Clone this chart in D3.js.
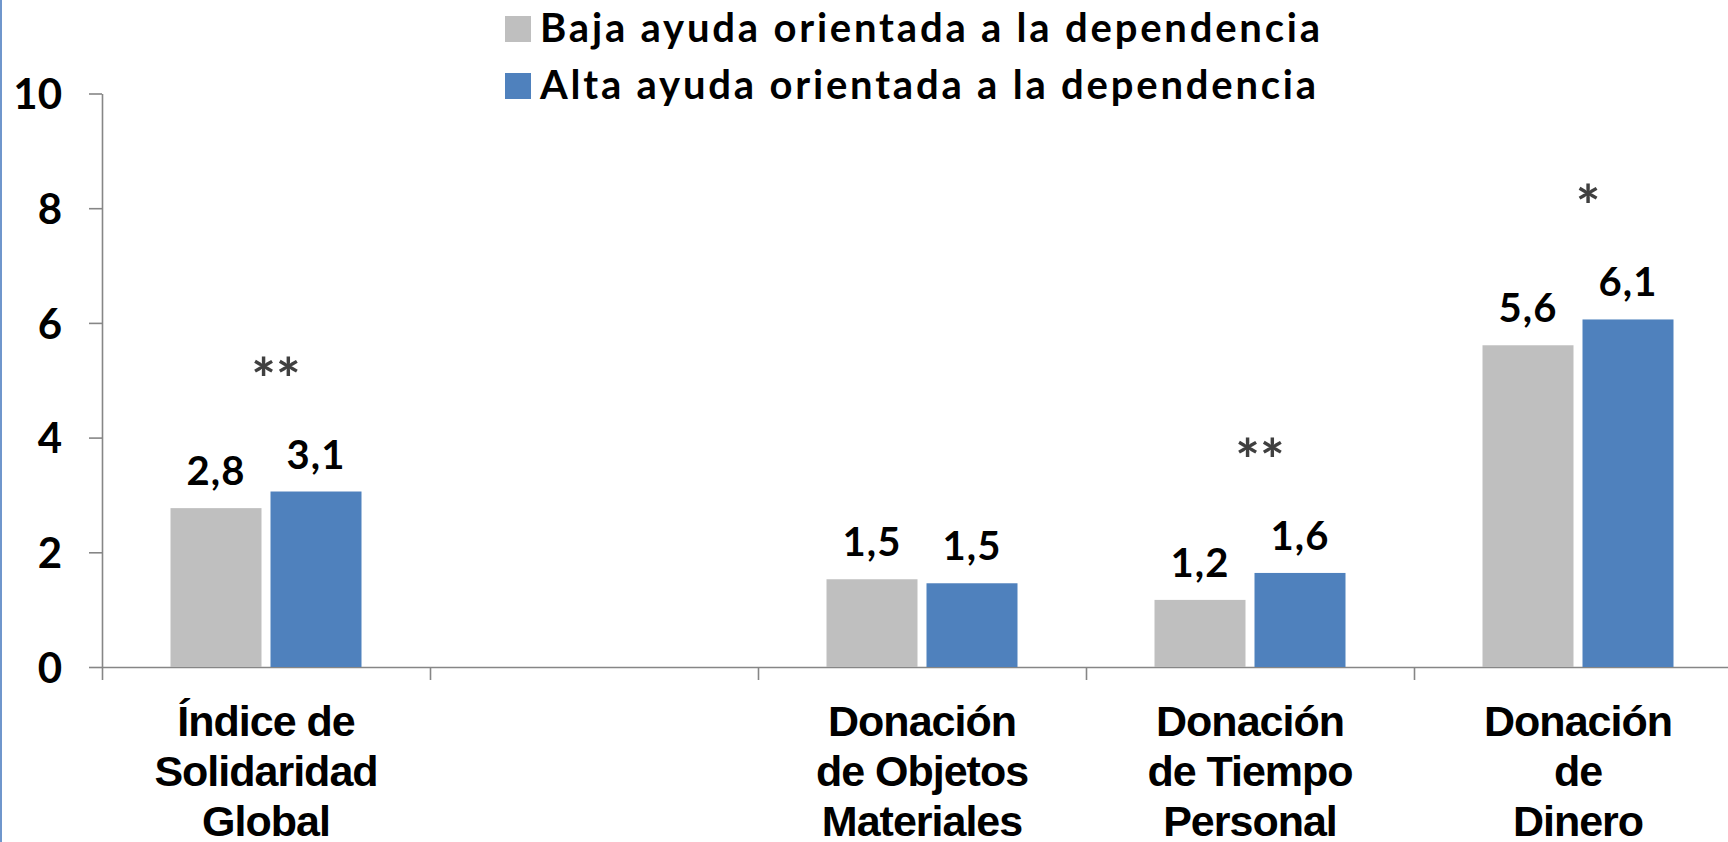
<!DOCTYPE html>
<html>
<head>
<meta charset="utf-8">
<script src="https://cdn.jsdelivr.net/npm/d3@7"></script>
<style>
  body { margin: 0; background: #fff; overflow: hidden; }
</style>
</head>
<body>
<div class="barchart"></div>
<script>
// data
var categories = ["Índice de\nSolidaridad\nGlobal", "", "Donación\nde Objetos\nMateriales", "Donación\nde Tiempo\nPersonal", "Donación\nde\nDinero"];
var seriesNames = ["Baja ayuda orientada a la dependencia", "Alta ayuda orientada a la dependencia"];
var bajaValues = [2.77, null, 1.53, 1.17, 5.61];
var altaValues = [3.06, null, 1.46, 1.64, 6.06];
var significance = ["**", "", "", "**", "*"];
var yTicks = [0, 2, 4, 6, 8, 10];

var colors = ["#bfbfbf", "#4f81bd"];

// set the dimensions and margins of the graph
var margin = {top: 93.5, left: 102},
    width = 1640,
    height = 573.5;

var svg = d3.select(".barchart")
    .append("svg")
    .attr("width", 1728)
    .attr("height", 842);

// blue frame line on the left edge
svg.append("line")
    .attr("x1", 1).attr("x2", 1)
    .attr("y1", 0).attr("y2", 842)
    .attr("stroke", "#6f96cc")
    .attr("stroke-width", 2);

var chart = svg.append("g")
    .attr("transform", "translate(" + margin.left + "," + margin.top + ")");

var rows = categories.map(function(c, i) {
  return {cat: c, idx: i, values: [bajaValues[i], altaValues[i]], sig: significance[i]};
});

// scales
var x0 = d3.scaleBand()
    .domain(categories)
    .range([0, width])
    .padding(0);

var x1 = d3.scaleBand()
    .domain([0, 1])
    .range([0, x0.bandwidth()])
    .paddingInner(0.09)
    .paddingOuter(0.685);

var y = d3.scaleLinear()
    .domain([0, 10])
    .range([height, 0]);

// Y axis
var yAxis = chart.append("g")
    .call(d3.axisLeft(y).tickValues(yTicks).tickSize(13).tickSizeOuter(0).tickPadding(27));
yAxis.selectAll("text")
    .attr("font-family", "Lato, 'Open Sans', sans-serif")
    .attr("font-weight", "bold")
    .attr("font-size", "42px")
    .attr("fill", "#000")
    .attr("dy", "0.36em");

// X axis with boundary ticks between categories
var xEdge = d3.scaleLinear().domain([0, categories.length]).range([0, width]);
var xAxis = chart.append("g")
    .attr("transform", "translate(0," + height + ")")
    .call(d3.axisBottom(xEdge).tickValues(d3.range(categories.length + 1)).tickSize(13).tickSizeOuter(0).tickFormat(""));

chart.selectAll(".domain, .tick line")
    .attr("stroke", "#868686")
    .attr("stroke-width", 1.6);

// bars
var groups = chart.selectAll("g.grp")
    .data(rows)
    .enter()
    .append("g")
    .attr("class", "grp")
    .attr("transform", function(d) { return "translate(" + x0(d.cat) + ",0)"; });

groups.selectAll("rect")
    .data(function(d) { return d.values.map(function(v, j) { return {v: v, j: j}; }).filter(function(e) { return e.v != null; }); })
    .enter()
    .append("rect")
    .attr("x", function(d) { return x1(d.j); })
    .attr("y", function(d) { return y(d.v); })
    .attr("width", x1.bandwidth())
    .attr("height", function(d) { return height - y(d.v); })
    .attr("fill", function(d) { return colors[d.j]; });

// value labels
groups.selectAll("text.val")
    .data(function(d) { return d.values.map(function(v, j) { return {v: v, j: j}; }).filter(function(e) { return e.v != null; }); })
    .enter()
    .append("text")
    .attr("class", "val")
    .attr("x", function(d) { return x1(d.j) + x1.bandwidth() / 2; })
    .attr("y", function(d) { return y(d.v) - 23; })
    .attr("text-anchor", "middle")
    .attr("font-family", "Lato, 'Open Sans', sans-serif")
    .attr("font-weight", "bold")
    .attr("font-size", "40px")
    .attr("letter-spacing", "1px")
    .attr("fill", "#000")
    .text(function(d) { return d.v.toFixed(1).replace(".", ","); });

// significance stars
groups.filter(function(d) { return d.sig; })
    .append("text")
    .attr("x", x0.bandwidth() / 2 + 10)
    .attr("y", function(d) { return y(d3.max(d.values)) - 92; })
    .attr("text-anchor", "middle")
    .attr("font-family", "Lato, sans-serif")
    .attr("font-weight", "bold")
    .attr("font-size", "58px")
    .attr("fill", "#404040")
    .text(function(d) { return d.sig; });

// category labels
groups.append("text")
    .attr("text-anchor", "middle")
    .attr("font-family", "'Liberation Sans Narrow', 'Arial Narrow', 'Liberation Sans', sans-serif")
    .attr("font-weight", "bold")
    .attr("font-size", "43px")
    .attr("letter-spacing", "-1px")
    .attr("fill", "#000")
    .selectAll("tspan")
    .data(function(d) { return d.cat ? d.cat.split("\n") : []; })
    .enter()
    .append("tspan")
    .attr("x", x0.bandwidth() / 2)
    .attr("y", function(d, i) { return height + 69 + i * 50; })
    .text(function(d) { return d; });

// legend
var legend = svg.append("g")
    .attr("transform", "translate(505,0)");
var items = legend.selectAll("g")
    .data(seriesNames)
    .enter()
    .append("g")
    .attr("transform", function(d, i) { return "translate(0," + (42 + i * 57) + ")"; });
items.append("rect")
    .attr("x", 0)
    .attr("y", -26)
    .attr("width", 26)
    .attr("height", 26)
    .attr("fill", function(d, i) { return colors[i]; });
items.append("text")
    .attr("x", 35)
    .attr("y", 0)
    .attr("font-family", "Lato, 'Open Sans', sans-serif")
    .attr("font-weight", "bold")
    .attr("font-size", "40px")
    .attr("letter-spacing", "2.8px")
    .attr("fill", "#000")
    .text(function(d) { return d; });
</script>
</body>
</html>
